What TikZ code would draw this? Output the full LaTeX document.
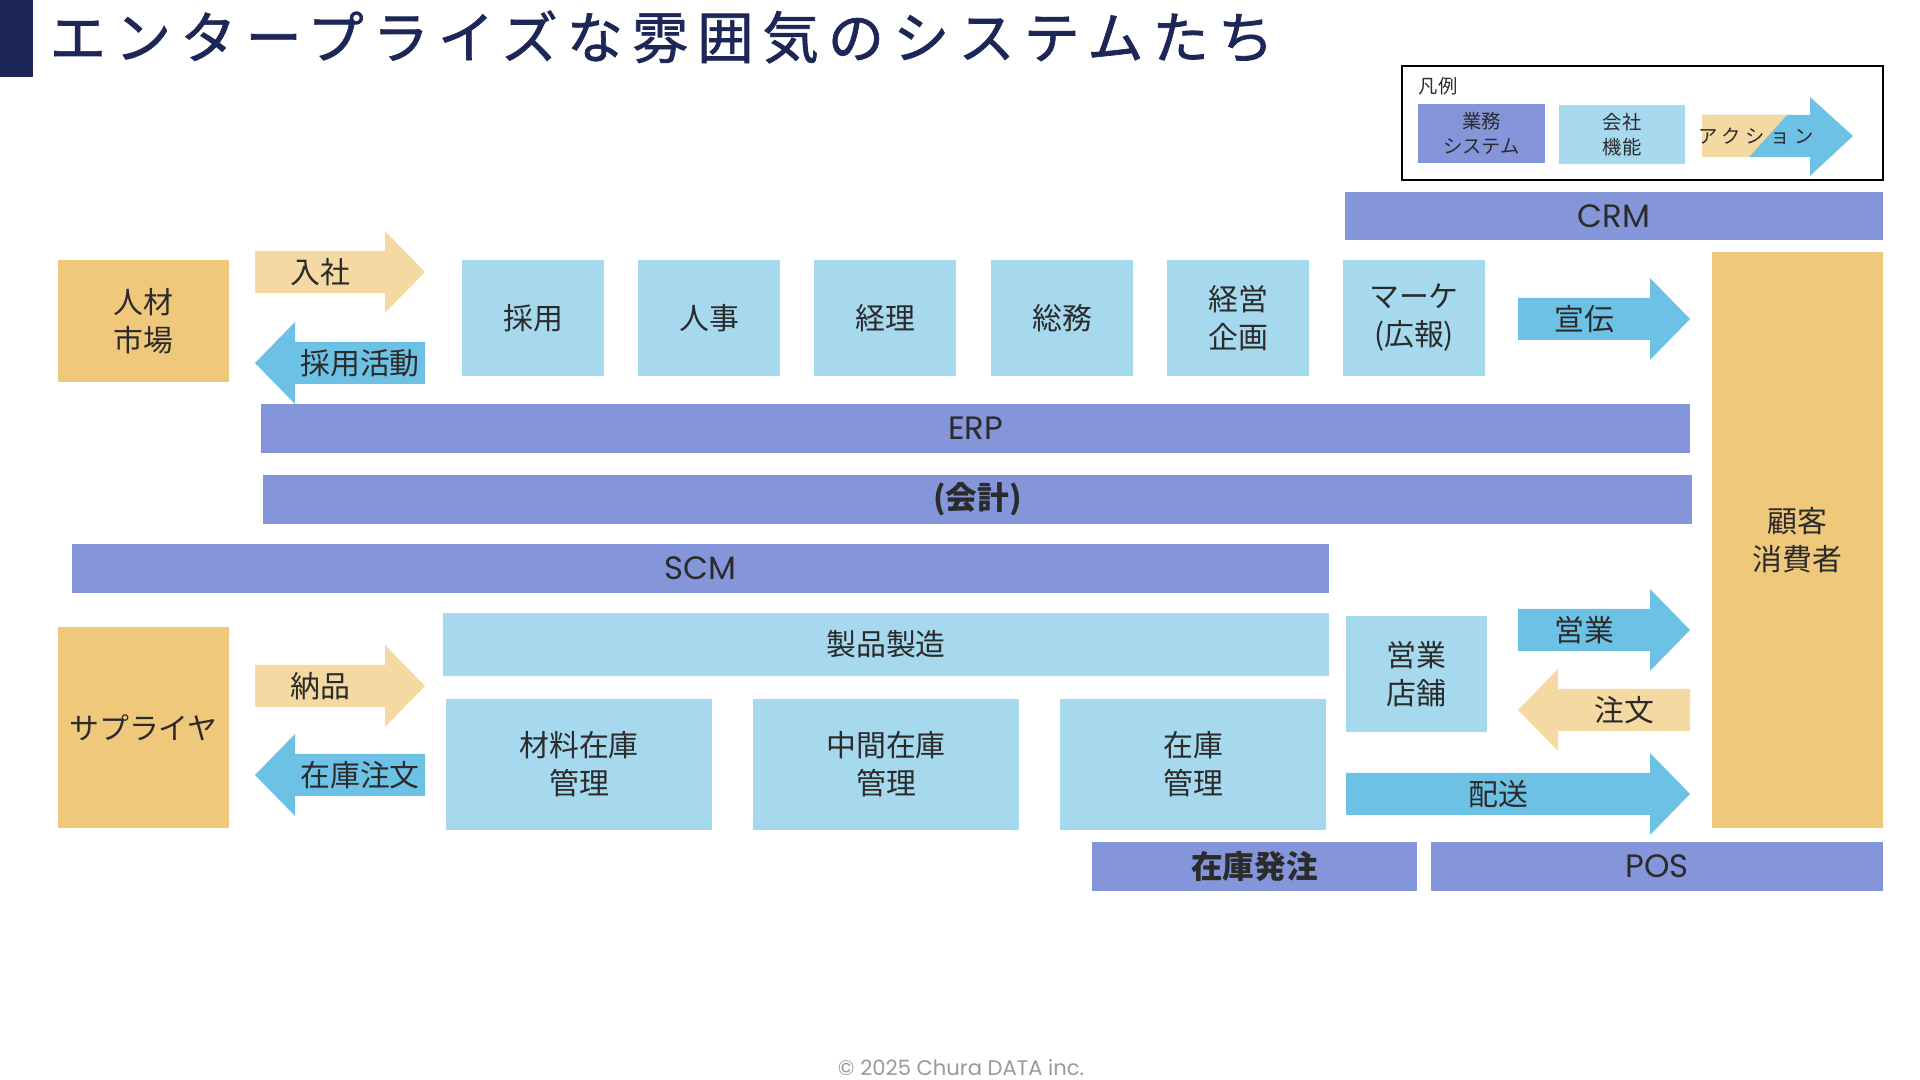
\documentclass[tikz,border=0pt]{standalone}
\usepackage{fontspec}
\setmainfont{Noto Sans CJK JP}
\newfontfamily\latinfont{Poppins}
\definecolor{navy}{HTML}{1D2757}
\definecolor{sysblue}{HTML}{8496D9}
\definecolor{funcblue}{HTML}{A6D8EE}
\definecolor{market}{HTML}{F0C87C}
\definecolor{acttan}{HTML}{F5D9A2}
\definecolor{actblue}{HTML}{6DC1E4}
\definecolor{ink}{HTML}{2B2B2B}
\tikzset{
  lbl/.style={font=\fontsize{8.5}{10.8}\selectfont,text=ink,align=center,inner sep=0pt},
  barlbl/.style={font=\latinfont\fontsize{9.2}{11}\selectfont,text=ink,inner sep=0pt},
  boldlbl/.style={font=\bfseries\fontsize{9}{11}\selectfont,text=ink,inner sep=0pt},
  keylbl/.style={font=\fontsize{5.5}{7.2}\selectfont,text=ink,align=center,inner sep=0pt},
}
\begin{document}
\begin{tikzpicture}[x=0.01cm,y=-0.01cm]
\useasboundingbox (0,0) rectangle (1920,1080);
% title
\fill[navy] (0,0) rectangle (33,77);
\node[anchor=west,inner sep=0pt,text=navy,font=\fontsize{16}{18}\selectfont\addfontfeature{LetterSpace=16,FakeBold=1.2}] (title) at (49,37) {エンタープライズな雰囲気のシステムたち};
% legend
\draw[line width=0.6pt] (1402,66) rectangle (1883,180);
\node[keylbl,anchor=west] (legend) at (1418,86) {凡例};
\fill[sysblue] (1418,104) rectangle (1545,163);
\node[keylbl] (keysys) at (1481.5,133.5) {業務\\システム};
\fill[funcblue] (1559,105) rectangle (1685,164);
\node[keylbl] (keyfunc) at (1622,134.5) {会社\\機能};
\fill[actblue] (1702,115) -- (1810,115) -- (1810,97) -- (1853,136) -- (1810,176) -- (1810,157) -- (1702,157) -- cycle;
\fill[acttan] (1702,115) -- (1787,115) -- (1749,157) -- (1702,157) -- cycle;
\node[keylbl,font=\fontsize{5.5}{7}\selectfont\addfontfeature{LetterSpace=25}] (keyact) at (1756,136) {アクション};
% systems
\fill[sysblue] (1345,192) rectangle (1883,240);
\node[barlbl] (crm) at (1614,216) {CRM};
\fill[sysblue] (261,404) rectangle (1690,453);
\node[barlbl] (erp) at (975.5,428.5) {ERP};
\fill[sysblue] (263,475) rectangle (1692,524);
\node[boldlbl] (kaikei) at (977.5,499.5) {(会計)};
\fill[sysblue] (72,544) rectangle (1329,593);
\node[barlbl] (scm) at (700.5,568.5) {SCM};
\fill[sysblue] (1092,842) rectangle (1417,891);
\node[boldlbl] (hatchu) at (1254.5,866.5) {在庫発注};
\fill[sysblue] (1431,842) rectangle (1883,891);
\node[barlbl] (pos) at (1657,866.5) {POS};
% outside parties
\fill[market] (58,260) rectangle (229,382);
\node[lbl] (jinzai) at (143.5,321) {人材\\市場};
\fill[market] (58,627) rectangle (229,828);
\node[lbl] (supplier) at (143.5,727.5) {サプライヤ};
\fill[market] (1712,252) rectangle (1883,828);
\node[lbl] (kokyaku) at (1797.5,540) {顧客\\消費者};
% company functions
\foreach \x/\lab/\nm in {462/採用/saiyo,638/人事/jinji,814/経理/keiri,991/総務/somu,1167/{経営\\企画}/kikaku,1343/{マーケ\\(広報)}/marke}{
  \fill[funcblue] (\x,260) rectangle (\x+142,376);
  \node[lbl] (\nm) at (\x+71,318) {\lab};
}
\fill[funcblue] (443,613) rectangle (1329,676);
\node[lbl] (seizo) at (886,644.5) {製品製造};
\foreach \x/\lab/\nm in {446/{材料在庫\\管理}/zairyo,753/{中間在庫\\管理}/chukan,1060/{在庫\\管理}/zaiko}{
  \fill[funcblue] (\x,699) rectangle (\x+266,830);
  \node[lbl] (\nm) at (\x+133,764.5) {\lab};
}
\fill[funcblue] (1346,616) rectangle (1487,732);
\node[lbl] (tenpo) at (1416.5,674) {営業\\店舗};
% actions, pointing right
\foreach \a/\b/\yc/\col/\lab/\nm in {255/425/272/acttan/入社/nyusha,1518/1690/319/actblue/宣伝/senden,255/425/686/acttan/納品/nohin,1518/1690/630/actblue/営業/eigyo,1346/1690/794/actblue/配送/haiso}{
  \fill[\col] (\a,\yc-21) -- (\b-40,\yc-21) -- (\b-40,\yc-41) -- (\b,\yc) -- (\b-40,\yc+41) -- (\b-40,\yc+21) -- (\a,\yc+21) -- cycle;
  \node[lbl] (\nm) at ({(\a+\b-40)/2},\yc) {\lab};
}
% actions, pointing left
\foreach \a/\b/\yc/\col/\lab/\nm in {255/425/363/actblue/採用活動/katsudo,255/425/775/actblue/在庫注文/zaikochumon,1518/1690/710/acttan/注文/chumon}{
  \fill[\col] (\b,\yc-21) -- (\a+40,\yc-21) -- (\a+40,\yc-41) -- (\a,\yc) -- (\a+40,\yc+41) -- (\a+40,\yc+21) -- (\b,\yc+21) -- cycle;
  \node[lbl] (\nm) at ({(\a+40+\b)/2},\yc) {\lab};
}
% footer
\node[text=gray!80,font=\latinfont\fontsize{6}{7}\selectfont] (copyright) at (961,1068) {© 2025 Chura DATA inc.};
\end{tikzpicture}
\end{document}
